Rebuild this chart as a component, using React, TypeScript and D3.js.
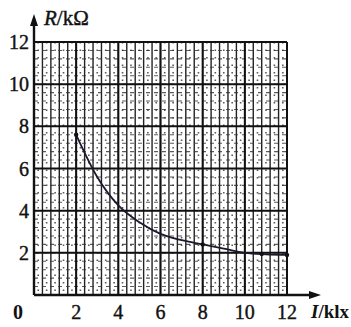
import * as d3 from "d3";

const width = 351;
const height = 327;

// curve (I in klx, R in kΩ)
const lux = [2, 3, 4, 5, 6, 7, 8, 9, 10, 11, 12];
const resistance = [7.6, 5.6, 4.25, 3.45, 2.9, 2.6, 2.4, 2.2, 2.0, 1.93, 1.9];
const markedLux = [2, 8, 10.8, 12];
const markedR = [7.6, 2.4, 1.95, 1.9];
const xTicks = [2, 4, 6, 8, 10, 12];
const yTicks = [2, 4, 6, 8, 10, 12];

const x = d3.scaleLinear().domain([0, 12]).range([34, 287]);
const y = d3.scaleLinear().domain([0, 12]).range([295, 42]);

const font = "'Liberation Serif', 'Times New Roman', serif";

export default function App() {
  const minor = d3.range(0, 12.001, 0.4);
  const fine = d3.range(0.2, 12, 0.4);
  const line = d3
    .line<number>()
    .x((_, i) => x(lux[i]))
    .y((d) => y(d))
    .curve(d3.curveMonotoneX);

  return (
    <svg
      width={width}
      height={height}
      style={{ position: "absolute", left: 0, top: 0, background: "#fff" }}
    >
      {/* dotted fine verticals */}
      {fine.map((v) => (
        <line
          key={"f" + v}
          x1={x(v)}
          x2={x(v)}
          y1={y(12)}
          y2={y(0)}
          stroke="#333"
          strokeWidth={1.6}
          strokeDasharray="1.5,6"
          opacity={0.8}
        />
      ))}
      {/* solid minor verticals */}
      {minor.map((v) => (
        <line
          key={"v" + v}
          x1={x(v)}
          x2={x(v)}
          y1={y(12)}
          y2={y(0)}
          stroke="#222"
          strokeWidth={1.4}
        />
      ))}
      {/* dashed minor horizontals */}
      {minor.map((v) => (
        <line
          key={"h" + v}
          x1={x(0)}
          x2={x(12)}
          y1={y(v)}
          y2={y(v)}
          stroke="#333"
          strokeWidth={1.1}
          strokeDasharray="4,4"
          opacity={0.8}
        />
      ))}
      {/* major lines */}
      {xTicks.map((v) => (
        <line key={"mx" + v} x1={x(v)} x2={x(v)} y1={y(12)} y2={y(0)} stroke="#111" strokeWidth={2} />
      ))}
      {yTicks.map((v) => (
        <line key={"my" + v} x1={x(0)} x2={x(12)} y1={y(v)} y2={y(v)} stroke="#111" strokeWidth={2} />
      ))}

      {/* curve */}
      <path d={line(resistance) ?? ""} fill="none" stroke="#1a1a2e" strokeWidth={1.8} />
      {markedLux.map((v, i) => (
        <circle key={"p" + v} cx={x(v)} cy={y(markedR[i])} r={2.2} fill="#111" />
      ))}

      {/* axes with arrows */}
      <line x1={x(0)} x2={x(0)} y1={y(0)} y2={22} stroke="#111" strokeWidth={2.4} />
      <path d={`M${x(0)},14 L${x(0) - 4},26 L${x(0) + 4},26 Z`} fill="#111" />
      <line x1={x(0)} x2={312} y1={y(0)} y2={y(0)} stroke="#111" strokeWidth={2.4} />
      <path d={`M321,${y(0)} L309,${y(0) - 4} L309,${y(0) + 4} Z`} fill="#111" />

      {/* tick labels */}
      {yTicks.map((v) => (
        <text key={"ty" + v} x={29} y={y(v) + 7} textAnchor="end" fontFamily={font} fontSize={20} fill="#111" stroke="#111" strokeWidth={0.4}>
          {v}
        </text>
      ))}
      {xTicks.map((v) => (
        <text key={"tx" + v} x={x(v)} y={319} textAnchor="middle" fontFamily={font} fontSize={20} fill="#111" stroke="#111" strokeWidth={0.4}>
          {v}
        </text>
      ))}
      <text x={13} y={319} fontFamily={font} fontSize={20} fill="#111" fontWeight="bold">
        0
      </text>

      {/* axis titles */}
      <text x={44} y={25} fontFamily={font} fontSize={21} fill="#111" stroke="#111" strokeWidth={0.4}>
        <tspan fontStyle="italic">R</tspan>/kΩ
      </text>
      <text x={311} y={318} fontFamily={font} fontSize={19} fill="#111" fontWeight="bold">
        <tspan fontStyle="italic">I</tspan>/klx
      </text>
    </svg>
  );
}
